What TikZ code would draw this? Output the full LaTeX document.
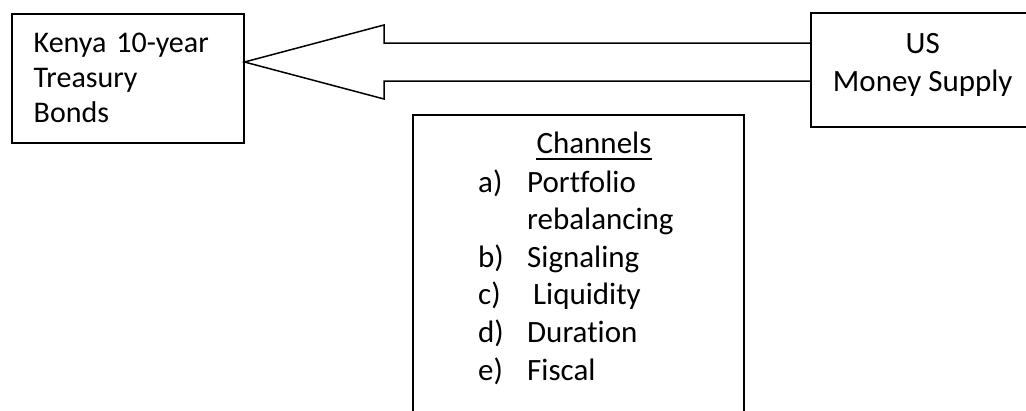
\documentclass[tikz,border=0pt]{standalone}
\usepackage{fontspec}
\setmainfont{Carlito}[Ligatures=NoCommon]
\begin{document}
\begin{tikzpicture}[x=1pt,y=-1pt,
  box/.style={draw=black, line width=1.5pt, rectangle, inner ysep=0pt},
  arrowshape/.style={draw=black, line width=1.5pt, line join=miter},
  txt/.style={font=\fontsize{30}{35}\selectfont}]
\useasboundingbox (0,0) rectangle (1026,410);
\clip (0,0) rectangle (1026,410);
\fill[white] (0,0) rectangle (1026,410);
% Kenya box
\node[box, txt, anchor=north west, minimum width=232pt, minimum height=129pt,
      inner xsep=22pt, text width=188pt, align=left] (kenya) at (11,13)
  {Kenya 10-year\\Treasury\\Bonds};
% US box
\node[box, anchor=north west, minimum width=224pt, minimum height=114pt,
      align=center, font=\fontsize{31}{38}\selectfont, text depth=14pt] (us) at (810,12)
  {US\\Money Supply};
% Channels box
\node[box, anchor=north west, minimum width=331pt, minimum height=320pt] (chanbox) at (412,114) {};
\node[inner sep=0pt, anchor=base, font=\fontsize{31}{37.6}\selectfont] (chan) at (594,153) {Channels};
\draw[line width=1.2pt] ([yshift=-6pt]chan.base west) -- ([yshift=-6pt]chan.base east);
\node[inner sep=0pt, anchor=base west, font=\fontsize{31}{37.6}\selectfont] (list) at (478,192)
  {\begin{tabular}[t]{@{}p{49pt}@{}l@{}}
   a) & Portfolio\\
      & rebalancing\\
   b) & Signaling\\
   c) & \hspace{6pt}Liquidity\\
   d) & Duration\\
   e) & Fiscal
   \end{tabular}};
% Arrow
\coordinate (axis) at (0,62);
\coordinate (tip) at (kenya.east |- axis);
\coordinate (sT) at (0,43);
\coordinate (sB) at (0,81);
\draw[arrowshape] (us.west |- sT) -- (384,43) -- (384,25) -- (tip)
  -- (384,99) -- (384,81) -- (us.west |- sB);
\end{tikzpicture}
\end{document}
